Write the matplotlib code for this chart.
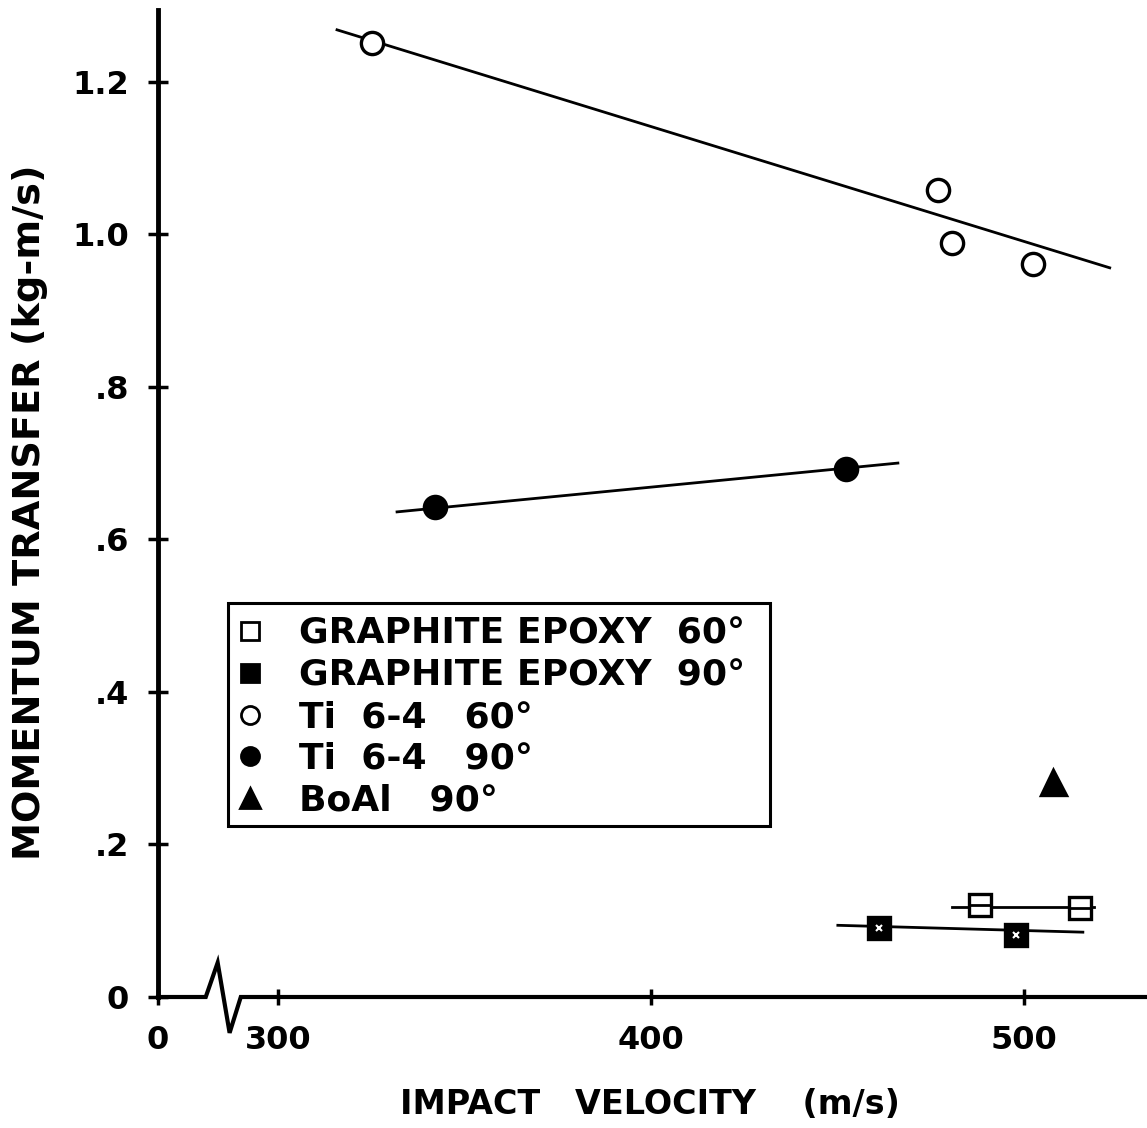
import matplotlib
matplotlib.use("Agg")
import matplotlib.pyplot as plt
from matplotlib.lines import Line2D
from matplotlib.patches import Rectangle

# ---- data (impact velocity m/s, momentum transfer kg-m/s) ----
ti60_v = [325.2, 476.9, 480.7, 502.4]
ti60_p = [1.251, 1.058, 0.988, 0.961]
ti60_fit_v = [315.8, 523.0]
ti60_fit_p = [1.268, 0.956]

ti90_v = [342.1, 452.3]
ti90_p = [0.643, 0.692]
ti90_fit_v = [331.9, 466.2]
ti90_fit_p = [0.636, 0.700]

boal90_v = [507.8]
boal90_p = [0.282]

ge60_v = [488.2, 515.0]
ge60_p = [0.121, 0.117]
ge60_fit_v = [480.7, 518.9]
ge60_fit_p = [0.118, 0.118]

ge90_v = [461.1, 497.9]
ge90_p = [0.0905, 0.081]
ge90_fit_v = [450.1, 515.8]
ge90_fit_p = [0.094, 0.085]

ytick_vals = [0, 0.2, 0.4, 0.6, 0.8, 1.0, 1.2]
ytick_labels = ["0", ".2", ".4", ".6", ".8", "1.0", "1.2"]
xtick_vals = [300, 400, 500]
xtick_labels = ["300", "400", "500"]

legend_labels = ["GRAPHITE EPOXY  60°", "GRAPHITE EPOXY  90°",
                 "Ti  6-4   60°", "Ti  6-4   90°", "BoAl   90°"]

X_LEFT = 267.8   # axis origin (broken axis, labelled 0)
X_RIGHT = 533.0
Y_TOP = 1.294

plt.rcParams['font.family'] = ['DejaVu Sans']

W, H = 1147, 1128
fig = plt.figure(figsize=(W/100, H/100), dpi=100)
ax = fig.add_axes([158/W, 1-997/H, 1-158/W, (997-10)/H])
ax.set_xlim(X_LEFT, X_RIGHT)
ax.set_ylim(0, Y_TOP)

for s in ["top", "right", "bottom"]:
    ax.spines[s].set_visible(False)
ax.spines["left"].set_linewidth(3.5)

# broken bottom axis
bx = [X_LEFT, 280.6, 283.8, 287.0, 290.0, X_RIGHT]
by = [0, 0, 0.045, -0.047, 0, 0]
ax.plot(bx, by, color="black", lw=3.0, clip_on=False, solid_joinstyle="miter", zorder=5)

lw_fit = 2.0
ms = 16
mew = 2.4
ax.plot(ti60_fit_v, ti60_fit_p, color="black", lw=lw_fit)
ax.plot(ti60_v, ti60_p, "o", ms=ms, mfc="white", mec="black", mew=mew, ls="none")
ax.plot(ti90_fit_v, ti90_fit_p, color="black", lw=lw_fit)
ax.plot(ti90_v, ti90_p, "o", ms=ms, mfc="black", mec="black", mew=mew, ls="none")
ax.plot(boal90_v, boal90_p, "^", ms=18, mfc="black", mec="black", mew=mew, ls="none")
ax.plot(ge60_fit_v, ge60_fit_p, color="black", lw=lw_fit)
ax.plot(ge60_v, ge60_p, "s", ms=16.5, mfc="white", mec="black", mew=mew, ls="none", zorder=4)
ax.plot(ge60_v, ge60_p, "_", ms=14, mec="black", mew=2, ls="none", zorder=4)
ax.plot(ge90_fit_v, ge90_fit_p, color="black", lw=lw_fit)
ax.plot(ge90_v, ge90_p, "s", ms=16.5, mfc="black", mec="black", mew=mew, ls="none", zorder=4)
ax.plot(ge90_v, ge90_p, "x", ms=5, mec="white", mew=1.5, ls="none", zorder=5)

ax.set_yticks(ytick_vals)
ax.set_yticklabels(ytick_labels, fontsize=23, fontweight="bold")
ax.set_xticks([X_LEFT] + xtick_vals)
ax.set_xticklabels(["0"] + xtick_labels, fontsize=23, fontweight="bold")
ax.tick_params(axis="y", direction="inout", length=14, width=2.5, pad=14)
ax.tick_params(axis="x", direction="inout", length=12, width=2.5, pad=14)

ax.set_xlabel("IMPACT   VELOCITY    (m/s)", fontsize=24, fontweight="bold")
ax.xaxis.set_label_coords((650-158)/(W-158), -(1105-997)/(997-10))
ax.xaxis.label.set_va("center")
ax.set_ylabel("MOMENTUM TRANSFER (kg-m/s)", fontsize=27.5, fontweight="bold")
ax.yaxis.set_label_coords(-(158-30)/(W-158), (997-512)/(997-10))
ax.yaxis.label.set_va("center")

handles = [
    Line2D([], [], marker="s", ls="none", ms=13, mfc="white", mec="black", mew=2),
    Line2D([], [], marker="s", ls="none", ms=13, mfc="black", mec="black", mew=2),
    Line2D([], [], marker="o", ls="none", ms=13, mfc="white", mec="black", mew=2),
    Line2D([], [], marker="o", ls="none", ms=13, mfc="black", mec="black", mew=2),
    Line2D([], [], marker="^", ls="none", ms=14, mfc="black", mec="black", mew=2),
]
leg = fig.legend(handles, legend_labels, loc="upper left",
                 bbox_to_anchor=(236/W, 1-617/H), borderaxespad=0, borderpad=0,
                 prop={"size": 26, "weight": "bold"}, labelspacing=0.21,
                 handlelength=0.8, handletextpad=0.95, frameon=False)
fig.add_artist(Rectangle((228/W, 1-826/H), (770-228)/W, (826-603)/H,
                         transform=fig.transFigure, fill=False,
                         edgecolor="black", lw=2.2))

fig.savefig("out.png", dpi=100)
